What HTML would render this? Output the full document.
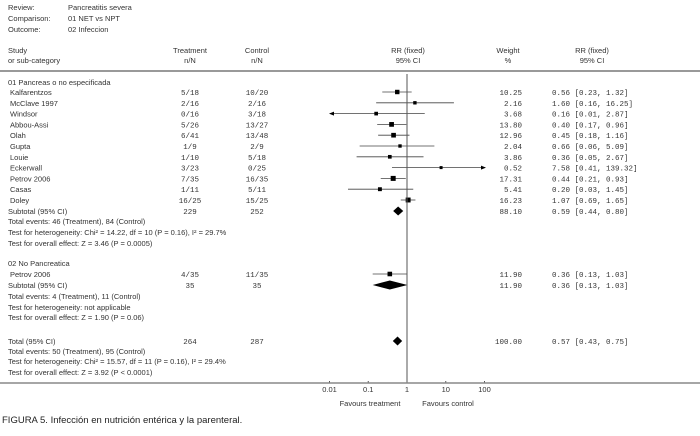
<!DOCTYPE html>
<html><head><meta charset="utf-8"><style>
body{margin:0;background:#fff;width:700px;height:431px;overflow:hidden}
svg text{font-family:"Liberation Sans",sans-serif;font-size:7.5px;fill:#333}
svg text.m{font-family:"Liberation Mono",monospace;font-size:7.5px}
</style></head><body>
<svg id="c" width="700" height="431" xmlns="http://www.w3.org/2000/svg">
<g>
<text x="8" y="10">Review:</text><text x="68" y="10">Pancreatitis severa</text>
<text x="8" y="21">Comparison:</text><text x="68" y="21">01 NET vs NPT</text>
<text x="8" y="32">Outcome:</text><text x="68" y="32">02 Infeccion</text>
</g>
<g>
<text x="8" y="53">Study</text><text x="8" y="63">or sub-category</text>
<text x="190" y="53" text-anchor="middle">Treatment</text><text x="190" y="63" text-anchor="middle">n/N</text>
<text x="257" y="53" text-anchor="middle">Control</text><text x="257" y="63" text-anchor="middle">n/N</text>
<text x="408" y="53" text-anchor="middle">RR (fixed)</text><text x="408" y="63" text-anchor="middle">95% CI</text>
<text x="508" y="53" text-anchor="middle">Weight</text><text x="508" y="63" text-anchor="middle">%</text>
<text x="592" y="53" text-anchor="middle">RR (fixed)</text><text x="592" y="63" text-anchor="middle">95% CI</text>
</g>
<rect x="0" y="70" width="700" height="2" fill="#999"/>
<g id="rows"></g>
<line x1="0" y1="383" x2="700" y2="383" stroke="#888" stroke-width="1.5"/>
<text x="370" y="406" text-anchor="middle">Favours treatment</text>
<text x="448" y="406" text-anchor="middle">Favours control</text>
<text x="2" y="423" style="font-size:9.5px;fill:#222">FIGURA 5. Infección en nutrición entérica y la parenteral.</text>
</svg>
<script>
const studies=["Kalfarentzos","McClave 1997","Windsor","Abbou-Assi","Olah","Gupta","Louie","Eckerwall","Petrov 2006","Casas","Doley"];
const treat=["5/18","2/16","0/16","5/26","6/41","1/9","1/10","3/23","7/35","1/11","16/25"];
const ctrl=["10/20","2/16","3/18","13/27","13/48","2/9","5/18","0/25","16/35","5/11","15/25"];
const weights=[10.25,2.16,3.68,13.80,12.96,2.04,3.86,0.52,17.31,5.41,16.23];
const rr=[0.56,1.60,0.16,0.40,0.45,0.66,0.36,7.58,0.44,0.20,1.07];
const lo=[0.23,0.16,0.01,0.17,0.18,0.06,0.05,0.41,0.21,0.03,0.69];
const hi=[1.32,16.25,2.87,0.96,1.16,5.09,2.67,139.32,0.93,1.45,1.65];
const sub1=[0.59,0.44,0.80,88.10];
const g2study=["Petrov 2006"],g2treat=["4/35"],g2ctrl=["11/35"],g2w=[11.90],g2rr=[0.36],g2lo=[0.13],g2hi=[1.03];
const sub2=[0.36,0.13,1.03,11.90];
const total=[0.57,0.43,0.75,100.00];
const ticks=[0.01,0.1,1,10,100];
const tickLabels=["0.01","0.1","1","10","100"];
const NS="http://www.w3.org/2000/svg";
const g=document.getElementById('rows');
const X0=407,DEC=38.75,XMIN=330,XMAX=485;
function xs(v){return X0+Math.log10(v)*DEC;}
function el(t,a,txt){const e=document.createElementNS(NS,t);for(const k in a)e.setAttribute(k,a[k]);if(txt!==undefined)e.textContent=txt;g.appendChild(e);return e;}
function f2(v){return v.toFixed(2);}
function ci(r,l,h){return f2(r)+" ["+f2(l)+", "+f2(h)+"]";}
function txt(x,y,s,name,anchor,mono){const e=el('text',{x:x,y:y,'text-anchor':anchor||'start',class:mono?'m':''},s);

return e;}
function studyRow(y,n,t,c,w,r,l,h){
 txt(10,y+3,n,'study-name');txt(190,y+3,t,'treatment-nN','middle',1);txt(257,y+3,c,'control-nN','middle',1);
 txt(522,y+3,f2(w),'weight-value','end',1);txt(552,y+3,ci(r,l,h),'rr-ci-value','start',1);
 let x1=xs(l),x2=xs(h);const la=x1<XMIN,ra=x2>XMAX;x1=Math.max(x1,XMIN);x2=Math.min(x2,XMAX);
 const ln=el('line',{x1:x1,y1:y,x2:x2,y2:y,stroke:'#444','stroke-width':0.8});
 
 
 if(la){const a=el('polygon',{points:`${x1-1},${y} ${x1+4},${y-2} ${x1+4},${y+2}`,fill:'#000'});}
 if(ra){const a=el('polygon',{points:`${x2+1},${y} ${x2-4},${y-2} ${x2-4},${y+2}`,fill:'#000'});}
 const s=Math.max(3,2.5+Math.sqrt(w)*0.6);
 const sq=el('rect',{x:xs(r)-s/2,y:y-s/2,width:s,height:s,fill:'#000'});
 
 
}
function diamond(y,r,l,h){const d=el('polygon',{points:`${xs(l)},${y} ${xs(r)},${y-4.5} ${xs(h)},${y} ${xs(r)},${y+4.5}`,fill:'#000'});
 
 }
txt(8,85,'01 Pancreas o no especificada','subgroup-1-header');
let y=92;
for(let i=0;i<studies.length;i++){studyRow(y,studies[i],treat[i],ctrl[i],weights[i],rr[i],lo[i],hi[i]);y+=10.8;}
txt(8,214,'Subtotal (95% CI)','subtotal-label');txt(190,214,'229','subtotal-treatment','middle',1);txt(257,214,'252','subtotal-control','middle',1);
txt(522,214,f2(sub1[3]),'subtotal-weight','end',1);txt(552,214,ci(sub1[0],sub1[1],sub1[2]),'subtotal-ci','start',1);diamond(211,sub1[0],sub1[1],sub1[2]);
txt(8,224,'Total events: 46 (Treatment), 84 (Control)','total-events');
txt(8,235,'Test for heterogeneity: Chi² = 14.22, df = 10 (P = 0.16), I² = 29.7%','heterogeneity-test');
txt(8,246,'Test for overall effect: Z = 3.46 (P = 0.0005)','overall-effect-test');
txt(8,266,'02 No Pancreatica','subgroup-2-header');
studyRow(274,g2study[0],g2treat[0],g2ctrl[0],g2w[0],g2rr[0],g2lo[0],g2hi[0]);
txt(8,288,'Subtotal (95% CI)','subtotal-label');txt(190,288,'35','subtotal-treatment','middle',1);txt(257,288,'35','subtotal-control','middle',1);
txt(522,288,f2(sub2[3]),'subtotal-weight','end',1);txt(552,288,ci(sub2[0],sub2[1],sub2[2]),'subtotal-ci','start',1);diamond(285,sub2[0],sub2[1],sub2[2]);
txt(8,299,'Total events: 4 (Treatment), 11 (Control)','total-events');
txt(8,310,'Test for heterogeneity: not applicable','heterogeneity-test');
txt(8,320,'Test for overall effect: Z = 1.90 (P = 0.06)','overall-effect-test');
txt(8,344,'Total (95% CI)','total-label');txt(190,344,'264','total-treatment','middle',1);txt(257,344,'287','total-control','middle',1);
txt(522,344,f2(total[3]),'total-weight','end',1);txt(552,344,ci(total[0],total[1],total[2]),'total-ci','start',1);diamond(341,total[0],total[1],total[2]);
txt(8,354,'Total events: 50 (Treatment), 95 (Control)','total-events');
txt(8,364,'Test for heterogeneity: Chi² = 15.57, df = 11 (P = 0.16), I² = 29.4%','heterogeneity-test');
txt(8,375,'Test for overall effect: Z = 3.92 (P < 0.0001)','overall-effect-test');
const vl=el('line',{x1:X0,y1:74,x2:X0,y2:383,stroke:'#555','stroke-width':1});


ticks.forEach((t,i)=>{const tk=el('line',{x1:xs(t),y1:381,x2:xs(t),y2:383,stroke:'#555'});
 
 
 txt(xs(t),392,tickLabels[i],'x-tick-label','middle');});
</script>
</body></html>
